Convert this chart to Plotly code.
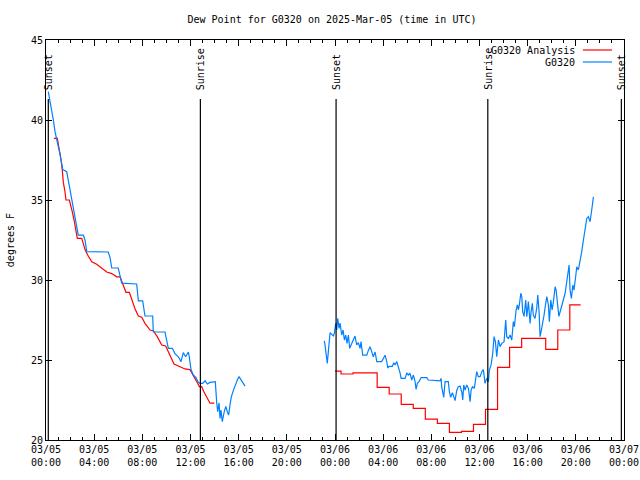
import plotly.graph_objects as go

# ---- data (hours since 2025-03-05 00:00 UTC) ----
obs_t1 = [0.19, 0.33, 0.47, 0.61, 0.75, 0.89, 1.02, 1.16, 1.30, 1.39, 1.72, 1.85, 1.99, 2.13, 2.27,
          2.41, 2.55, 2.68, 3.10, 3.24, 3.38, 5.17, 5.32, 5.46, 6.00, 6.15, 6.29, 7.53, 7.58, 7.67,
          8.03, 8.22, 8.86, 8.91, 9.88, 10.02, 10.16, 10.49, 10.71, 10.99, 11.21, 11.40, 11.60, 11.82,
          11.90, 12.04, 12.23, 12.46, 12.65, 12.79, 13.01, 13.21, 13.40, 13.62, 14.06, 14.18, 14.26,
          14.37, 14.45, 14.53, 14.64, 14.78, 14.93, 15.06, 15.17, 15.28, 15.39, 15.56, 15.70, 15.89,
          16.03, 16.20, 16.39, 16.53]
obs_v1 = [41.77, 41.25, 40.6, 40.0, 39.27, 38.64, 38.33, 37.9, 37.4, 36.9, 36.77, 36.25, 35.6, 35.0, 34.6,
          33.96, 33.33, 32.8, 32.8, 32.5, 31.77, 31.75, 31.4, 30.75, 30.75, 30.2, 29.8, 29.75, 29.2, 28.7,
          28.7, 27.75, 27.75, 26.75, 26.75, 26.25, 25.73, 25.73, 25.4, 25.2, 24.9, 25.46, 25.2, 25.5,
          25.2, 24.4, 24.06, 23.9, 23.6, 23.54, 23.54, 23.7, 23.5, 23.6, 23.65, 22.3, 21.77,
          22.33, 21.35, 21.87, 21.15, 21.7, 22.1, 21.77, 21.56, 22.2, 22.7, 23.1, 23.44, 23.75,
          23.96, 23.75, 23.5, 23.37]

obs_t2 = [23.11, 23.17, 23.36, 23.45, 23.59, 23.73, 23.86, 23.95, 24.06, 24.14, 24.23, 24.34, 24.42,
          24.56, 24.67, 24.78, 24.89, 25.0, 25.11, 25.22, 25.39, 25.52, 25.66, 25.80, 25.94, 26.08,
          26.16, 26.30, 26.64, 26.77, 26.91, 27.05, 27.18, 27.33, 27.47, 27.88, 28.01, 28.16, 28.30,
          28.38, 28.49, 28.76, 28.88, 28.99, 29.13, 29.26, 29.40, 29.49, 29.82, 29.96, 30.09, 30.23,
          30.37, 30.51, 30.65, 30.73, 30.84, 30.98, 31.15, 31.62, 31.75, 32.72, 32.81, 32.86, 32.95,
          33.03, 33.14, 33.41, 33.50, 33.61, 33.75, 33.86, 33.97, 34.11, 34.24, 34.39, 34.53, 34.61,
          34.69, 34.80, 34.94, 35.08, 35.22, 35.30, 35.41, 35.57, 35.69, 35.77, 35.90, 36.05, 36.19,
          36.32, 36.46, 36.60, 36.74, 36.82, 36.96, 37.10, 37.21, 37.32, 37.43, 37.57, 37.71, 37.85,
          38.04, 38.18, 38.26, 38.40, 38.54, 38.68, 38.81, 38.90, 39.04, 39.15, 39.23, 39.31, 39.43,
          39.51, 39.59, 39.70, 39.84, 39.93, 40.06, 40.20, 40.28, 40.39, 40.47, 40.61, 40.75, 40.84,
          40.95, 41.03, 41.14, 41.25, 41.36, 41.50, 41.59, 41.72, 41.80, 41.92, 42.03, 42.14, 42.28,
          42.36, 42.47, 42.59, 42.69, 42.83, 42.96, 43.11, 43.25, 43.33, 43.44, 43.52, 43.63, 43.75,
          43.85, 44.0, 44.08, 44.21, 44.35, 44.49, 44.63, 44.77, 44.91, 45.04, 45.18, 45.32, 45.46]
obs_v2 = [26.19, 25.94, 24.79, 25.73, 26.7, 26.6, 26.5, 26.67, 27.29, 26.875, 27.6, 26.98, 27.3,
          26.56, 26.875, 26.25, 26.56, 26.04, 26.56, 25.73, 26.04, 26.35, 26.5, 25.94, 26.08, 25.73,
          26.15, 25.3, 25.3, 25.6, 25.83, 25.52, 25.2, 25.5, 24.9, 24.9, 25.1, 25.3, 24.9,
          24.5, 24.6, 24.6, 24.83, 24.69, 24.9, 24.58, 24.2, 23.85, 23.85, 24.2, 24.06, 24.17,
          23.75, 24.06, 23.65, 23.17, 23.54, 23.65, 23.9, 23.9, 23.75, 23.7, 23.85, 23.33, 22.8,
          22.67, 23.65, 23.65, 23.0, 22.67, 22.96, 22.75, 22.46, 23.1, 23.33, 23.375, 23.0, 22.5,
          23.44, 23.125, 23.44, 23.23, 22.4, 23.1, 23.33, 23.23, 23.75, 24.27, 23.96, 23.96, 24.27,
          24.4, 23.54, 23.85, 23.65, 24.375, 24.69, 25.42, 26.46, 26.15, 25.2, 26.25, 25.83, 26.04,
          26.15, 27.5, 26.46, 26.35, 26.56, 26.25, 27.4, 27.08, 28.125, 28.44, 28.125, 28.44, 29.17,
          28.96, 28.0, 27.73, 28.75, 27.7, 28.65, 27.29, 28.0, 28.54, 27.8, 27.6, 28.23, 29.06,
          28.0, 26.46, 26.875, 27.5, 27.8, 28.54, 28.96, 28.44, 27.4, 28.75, 28.125, 28.65, 29.58,
          29.375, 28.65, 27.73, 28.0, 28.33, 28.75, 29.17, 30.0, 30.52, 30.94, 29.375, 28.85, 29.69,
          29.375, 30.3, 30.83, 30.625, 31.14, 31.77, 32.5, 33.23, 33.85, 33.96, 33.65, 34.375, 35.2]

ana_t1 = [0.66, 0.94, 1.02, 1.16, 1.25, 1.35, 1.44, 1.58, 1.66, 1.94, 2.05, 2.18, 2.33, 2.47, 2.60,
          2.97, 3.10, 3.24, 3.46, 3.80, 4.21, 4.63, 5.04, 5.46, 5.87, 6.15, 6.29, 6.42, 6.64, 6.92,
          7.12, 7.39, 7.67, 7.95, 8.22, 8.64, 8.91, 9.24, 9.61, 9.94, 10.16, 10.44, 10.63, 10.99,
          11.54, 11.96, 12.23, 12.52, 12.73, 12.93, 13.12, 13.35, 13.62, 13.98]
ana_v1 = [38.85, 38.85, 38.5, 38.0, 37.5, 36.9, 36.1, 35.5, 35.0, 35.0, 34.7, 34.27, 33.75, 33.1, 32.6,
          32.6, 32.2, 31.9, 31.56, 31.14, 30.98, 30.73, 30.5, 30.4, 30.2, 30.2, 29.9, 29.58, 29.23, 29.23,
          28.75, 28.2, 27.75, 27.67, 27.29, 26.875, 26.83, 26.46, 25.94, 25.875, 25.52, 25.1, 24.75, 24.625,
          24.44, 24.4, 24.06, 23.65, 23.33, 23.33, 23.0, 22.7, 22.3, 22.3]

ana_t2 = [24.0, 24.5, 25.5, 26.5, 27.5, 28.5, 29.5, 30.5, 31.5, 32.5, 33.5, 34.5, 35.5, 36.5, 37.5,
          38.5, 39.5, 40.5, 41.5, 42.5, 43.5, 44.4]
ana_v2 = [24.31, 24.125, 24.2, 24.2, 23.29, 22.875, 22.23, 21.98, 21.3, 21.04, 20.48, 20.54, 20.98, 21.92,
          24.54, 25.79, 26.35, 26.35, 25.67, 26.875, 28.44, 28.44]

sun_t = [0.19, 12.82, 24.09, 36.69, 47.78]
sun_label = ["Sunset", "Sunrise", "Sunset", "Sunrise", "Sunset"]

xtick_vals = [0, 4, 8, 12, 16, 20, 24, 28, 32, 36, 40, 44, 48]
xtick_text = ["03/05<br>00:00", "03/05<br>04:00", "03/05<br>08:00", "03/05<br>12:00", "03/05<br>16:00",
              "03/05<br>20:00", "03/06<br>00:00", "03/06<br>04:00", "03/06<br>08:00", "03/06<br>12:00",
              "03/06<br>16:00", "03/06<br>20:00", "03/07<br>00:00"]

RED = "#ff0000"
BLUE = "#0080ff"
FONT = "DejaVu Sans Mono"
LW = 1.2

fig = go.Figure()
fig.add_trace(go.Scatter(x=ana_t1, y=ana_v1, mode="lines", line=dict(color=RED, width=LW),
                         name="G0320 Analysis", showlegend=False))
fig.add_trace(go.Scatter(x=ana_t2, y=ana_v2, mode="lines", line=dict(color=RED, width=LW, shape="hv"),
                         name="G0320 Analysis", showlegend=False))
fig.add_trace(go.Scatter(x=obs_t1 + [None] + obs_t2, y=obs_v1 + [None] + obs_v2, mode="lines",
                         line=dict(color=BLUE, width=LW), name="G0320", showlegend=False,
                         connectgaps=False))

for t, lab in zip(sun_t, sun_label):
    fig.add_shape(type="line", xref="x", yref="paper", x0=t, x1=t, y0=0, y1=0.8525,
                  line=dict(color="black", width=1.2))
    fig.add_annotation(x=t, xref="x", y=0.87, yref="paper", text=lab, textangle=-90,
                       showarrow=False, yanchor="bottom", xanchor="center",
                       font=dict(family=FONT, size=10, color="black"))

# legend (text left of sample line, as in the reference)
for name, col, yp in [("G0320 Analysis", RED, 0.975), ("G0320", BLUE, 0.945)]:
    fig.add_annotation(x=0.9185, xref="paper", y=yp, yref="paper", text=name, showarrow=False,
                       xanchor="right", yanchor="middle", font=dict(family=FONT, size=10, color="black"))
    fig.add_shape(type="line", xref="paper", yref="paper", x0=0.9288, x1=0.9792, y0=yp, y1=yp,
                  line=dict(color=col, width=LW))

fig.add_annotation(x=-0.075, xref="paper", y=0.5, yref="paper", text="degrees F", textangle=-90,
                   showarrow=False, font=dict(family=FONT, size=10, color="black"))

fig.update_layout(
    width=640, height=480,
    margin=dict(l=46, r=16, t=40, b=40, autoexpand=False),
    paper_bgcolor="white", plot_bgcolor="white",
    font=dict(family=FONT, size=10, color="black"),
    title=dict(text="Dew Point for G0320 on 2025-Mar-05 (time in UTC)", x=332 / 640, xanchor="center",
               y=1 - 19 / 480, yanchor="middle", font=dict(family=FONT, size=10, color="black")),
    showlegend=False,
)
fig.update_xaxes(range=[0, 48], tickmode="array", tickvals=xtick_vals, ticktext=xtick_text,
                 ticks="inside", ticklen=6, tickcolor="black", showline=True, linecolor="black",
                 linewidth=1, mirror="ticks", showgrid=False, zeroline=False, automargin=False,
                 minor=dict(dtick=1, tick0=0, ticks="inside", ticklen=3, tickcolor="black", showgrid=False))
fig.update_yaxes(range=[20, 45], dtick=5, ticks="inside", ticklen=6, tickcolor="black", showline=True,
                 linecolor="black", linewidth=1, mirror="ticks", showgrid=False, zeroline=False,
                 automargin=False)

fig.write_html("out.html")
